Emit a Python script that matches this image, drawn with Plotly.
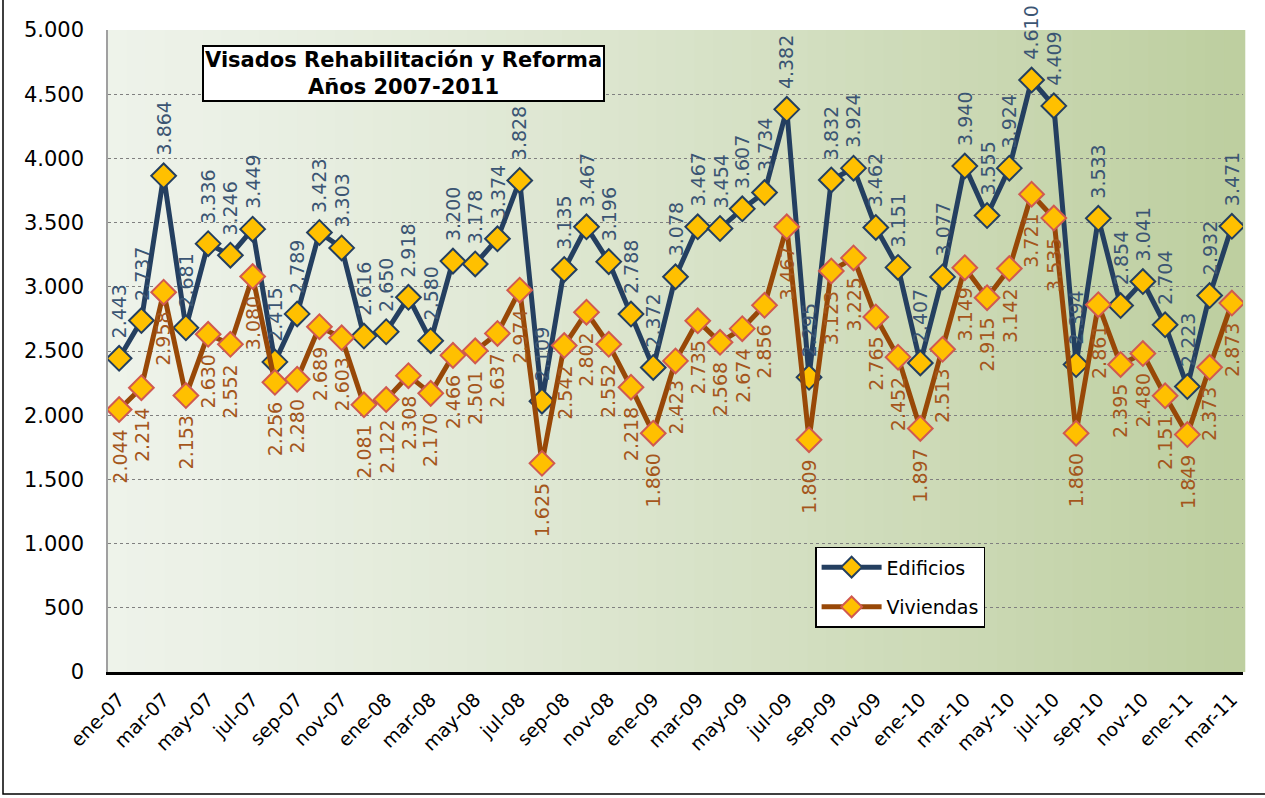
import plotly.graph_objects as go

months = [
    "ene-07", "feb-07", "mar-07", "abr-07", "may-07", "jun-07", "jul-07", "ago-07", "sep-07", "oct-07", "nov-07", "dic-07",
    "ene-08", "feb-08", "mar-08", "abr-08", "may-08", "jun-08", "jul-08", "ago-08", "sep-08", "oct-08", "nov-08", "dic-08",
    "ene-09", "feb-09", "mar-09", "abr-09", "may-09", "jun-09", "jul-09", "ago-09", "sep-09", "oct-09", "nov-09", "dic-09",
    "ene-10", "feb-10", "mar-10", "abr-10", "may-10", "jun-10", "jul-10", "ago-10", "sep-10", "oct-10", "nov-10", "dic-10",
    "ene-11", "feb-11", "mar-11",
]

edificios = [
    2443, 2737, 3864, 2681, 3336, 3246, 3449, 2415, 2789, 3423, 3303, 2616,
    2650, 2918, 2580, 3200, 3178, 3374, 3828, 2109, 3135, 3467, 3196, 2788,
    2372, 3078, 3467, 3454, 3607, 3734, 4382, 2295, 3832, 3924, 3462, 3151,
    2407, 3077, 3940, 3555, 3924, 4610, 4409, 2394, 3533, 2854, 3041, 2704,
    2223, 2932, 3471,
]

viviendas = [
    2044, 2214, 2958, 2153, 2630, 2552, 3080, 2256, 2280, 2689, 2603, 2081,
    2122, 2308, 2170, 2466, 2501, 2637, 2974, 1625, 2542, 2802, 2552, 2218,
    1860, 2423, 2735, 2568, 2674, 2856, 3467, 1809, 3123, 3225, 2765, 2452,
    1897, 2513, 3149, 2915, 3142, 3721, 3535, 1860, 2861, 2395, 2480, 2151,
    1849, 2373, 2873,
]

y_ticks = list(range(0, 5001, 500))

FONT = "DejaVu Sans"
NAVY = "#243f60"
BROWN = "#984807"
GOLD = "#ffc000"


def fmt(v):
    return f"{v:,}".replace(",", ".")


fig = go.Figure()

fig.add_trace(go.Scatter(
    x=months, y=edificios, name="Edificios", mode="lines+markers",
    legendgroup="e",
    line=dict(color=NAVY, width=5),
    marker=dict(symbol="diamond", size=19, color=GOLD, line=dict(color=NAVY, width=2)),
))
fig.add_trace(go.Scatter(
    x=months, y=viviendas, name="Viviendas", mode="lines+markers",
    legendgroup="v",
    line=dict(color=BROWN, width=5),
    marker=dict(symbol="diamond", size=19, color=GOLD, line=dict(color="#d05a50", width=2)),
))

annotations = []
for m, v in zip(months, edificios):
    annotations.append(dict(
        x=m, y=v, text=fmt(v), textangle=-90, showarrow=False,
        xanchor="center", yanchor="bottom", yshift=18,
        font=dict(family=FONT, size=19, color="#3b5573"),
    ))
for m, v in zip(months, viviendas):
    annotations.append(dict(
        x=m, y=v, text=fmt(v), textangle=-90, showarrow=False,
        xanchor="center", yanchor="top", yshift=-18,
        font=dict(family=FONT, size=19, color="#a4561c"),
    ))

annotations.append(dict(
    xref="paper", yref="paper", x=0.26, y=0.932, xanchor="center", yanchor="middle",
    text="<b>Visados Rehabilitación y Reforma<br>Años 2007-2011</b>",
    showarrow=False, align="center",
    font=dict(family=FONT, size=21, color="black"),
    bgcolor="white", bordercolor="black", borderwidth=2, borderpad=1,
))

# gradient background for the plot area
shapes = []
n = 60
c0 = (238, 243, 234)
c1 = (190, 207, 160)
for i in range(n):
    t = i / (n - 1)
    t = t ** 1.2
    col = tuple(int(c0[k] + (c1[k] - c0[k]) * t) for k in range(3))
    shapes.append(dict(
        type="rect", xref="x domain", yref="y domain",
        x0=i / n, x1=(i + 1) / n + 0.002, y0=0, y1=1,
        fillcolor=f"rgb{col}", line=dict(width=0), layer="below",
    ))
shapes.append(dict(
    type="rect", xref="paper", yref="paper",
    x0=-105 / 1135, x1=1.05, y0=-122 / 642, y1=1.1,
    line=dict(color="black", width=1.5), fillcolor="rgba(0,0,0,0)",
))

fig.update_layout(
    width=1265, height=798,
    margin=dict(l=108, r=22, t=30, b=126),
    paper_bgcolor="white",
    plot_bgcolor="rgba(0,0,0,0)",
    separators=",.",
    font=dict(family=FONT, size=19, color="black"),
    showlegend=True,
    legend=dict(
        x=0.623, y=0.195, xanchor="left", yanchor="top",
        bgcolor="white", bordercolor="black", borderwidth=1.5,
        font=dict(family=FONT, size=19, color="black"),
        itemwidth=60, tracegroupgap=12,
    ),
    annotations=annotations,
    shapes=shapes,
)

fig.update_xaxes(
    type="category",
    tickvals=months[::2], ticktext=months[::2],
    tickangle=-45,
    tickfont=dict(family=FONT, size=19, color="black"),
    showgrid=False,
    showline=True, linecolor="black", linewidth=3,
    ticks="", ticklabelstandoff=6, range=[-0.5, len(months) - 0.5],
)
fig.update_yaxes(
    range=[0, 5000],
    tickvals=y_ticks,
    tickformat=",d",
    tickfont=dict(family=FONT, size=21, color="black"),
    showgrid=True, gridcolor="#808080", griddash="dot", gridwidth=1,
    showline=True, linecolor="#a0a0a0", linewidth=1.5,
    ticks="", ticklabelstandoff=18,
    zeroline=False,
)

fig.write_html(
    "out.html",
    config={"displayModeBar": False},
    post_script="document.body.style.margin='0';",
)
